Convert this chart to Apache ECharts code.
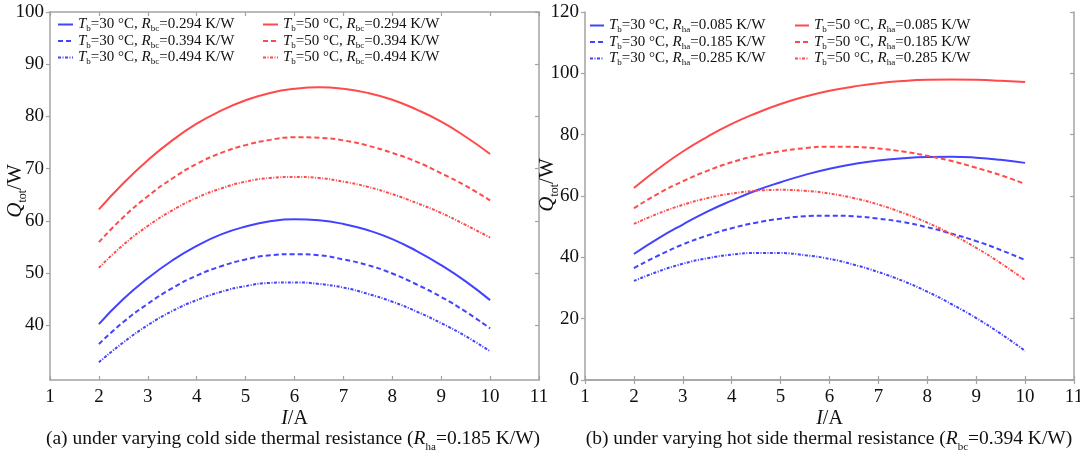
<!DOCTYPE html>
<html><head><meta charset="utf-8">
<script src="https://cdn.jsdelivr.net/npm/echarts@6/dist/echarts.min.js"></script>
<style>html,body{margin:0;padding:0;background:#fff}#c{width:1080px;height:458px}</style>
</head><body><div id="c"></div>
<script>
// ---------- data ----------
const currentI = [2, 2.5, 3, 3.5, 4, 4.5, 5, 5.5, 6, 6.5, 7, 7.5, 8, 8.5, 9, 9.5, 10];
const xTickValues = [1, 2, 3, 4, 5, 6, 7, 8, 9, 10, 11];
const yTicksA = [40, 50, 60, 70, 80, 90, 100];
const yTicksB = [0, 20, 40, 60, 80, 100, 120];

// (a) varying cold side resistance R_bc, R_ha = 0.185 K/W
const a_T30_Rbc0294 = [40.2, 45.0, 49.0, 52.4, 55.2, 57.4, 58.9, 59.9, 60.3, 60.1, 59.4, 58.2, 56.5, 54.2, 51.5, 48.4, 44.8];
const a_T30_Rbc0394 = [36.4, 40.6, 44.1, 47.1, 49.5, 51.3, 52.6, 53.4, 53.6, 53.4, 52.6, 51.5, 49.9, 47.8, 45.4, 42.6, 39.4];
const a_T30_Rbc0494 = [32.9, 36.7, 40.0, 42.7, 44.8, 46.4, 47.5, 48.1, 48.2, 47.9, 47.2, 46.0, 44.5, 42.6, 40.4, 37.9, 35.0];
const a_T50_Rbc0294 = [62.2, 67.2, 71.6, 75.4, 78.6, 81.1, 83.1, 84.5, 85.3, 85.6, 85.3, 84.5, 83.2, 81.3, 79.0, 76.1, 72.8];
const a_T50_Rbc0394 = [55.9, 60.7, 64.7, 68.1, 70.9, 73.0, 74.5, 75.5, 76.0, 75.9, 75.4, 74.4, 73.0, 71.3, 69.1, 66.7, 63.9];
const a_T50_Rbc0494 = [51.0, 55.4, 59.0, 62.0, 64.4, 66.2, 67.5, 68.2, 68.4, 68.2, 67.5, 66.5, 65.1, 63.4, 61.5, 59.2, 56.8];

// (b) varying hot side resistance R_ha, R_bc = 0.394 K/W
const b_T30_Rha0085 = [41.1, 46.2, 50.7, 54.9, 58.5, 61.8, 64.5, 66.9, 68.9, 70.4, 71.6, 72.3, 72.7, 72.8, 72.5, 71.8, 70.8];
const b_T30_Rha0185 = [36.5, 40.6, 44.2, 47.1, 49.5, 51.3, 52.6, 53.4, 53.6, 53.4, 52.6, 51.5, 49.8, 47.7, 45.3, 42.4, 39.1];
const b_T30_Rha0285 = [32.3, 35.4, 37.9, 39.7, 40.9, 41.4, 41.4, 40.7, 39.5, 37.6, 35.2, 32.3, 28.8, 24.7, 20.2, 15.1, 9.5];
const b_T50_Rha0085 = [62.6, 68.9, 74.5, 79.3, 83.5, 87.0, 90.0, 92.4, 94.3, 95.7, 96.8, 97.5, 97.9, 98.0, 97.9, 97.6, 97.2];
const b_T50_Rha0185 = [56.0, 60.8, 64.8, 68.2, 71.0, 73.1, 74.6, 75.6, 76.1, 76.0, 75.5, 74.5, 73.1, 71.4, 69.2, 66.8, 63.9];
const b_T50_Rha0285 = [50.9, 54.3, 57.1, 59.3, 60.8, 61.7, 62.0, 61.7, 60.8, 59.3, 57.2, 54.5, 51.3, 47.5, 43.1, 38.1, 32.6];

const labelsA = ['0.294', '0.394', '0.494'];
const labelsB = ['0.085', '0.185', '0.285'];

// ---------- style ----------
const BLUE = '#4242ff', RED = '#ff4a4a', GRAY = '#a3a3a3', TXT = '#111';
const FONT = '"Liberation Serif", "Times New Roman", serif';
const dashTypes = ['solid', [5, 3], [3, 1.5, 1, 1.5]];
const rich = {
  i: { fontStyle: 'italic', fontFamily: FONT, fontSize: 15, color: TXT, lineHeight: 12 },
  n: { fontFamily: FONT, fontSize: 15, color: TXT, lineHeight: 12 },
  s: { fontFamily: FONT, fontSize: 9, color: TXT, lineHeight: 8, verticalAlign: 'top', padding: [6, 0, 0, 0] }
};

const seriesDefs = [
  ['a1', a_T30_Rbc0294, BLUE, 0, 0], ['a2', a_T30_Rbc0394, BLUE, 1, 0], ['a3', a_T30_Rbc0494, BLUE, 2, 0],
  ['a4', a_T50_Rbc0294, RED, 0, 0], ['a5', a_T50_Rbc0394, RED, 1, 0], ['a6', a_T50_Rbc0494, RED, 2, 0],
  ['b1', b_T30_Rha0085, BLUE, 0, 1], ['b2', b_T30_Rha0185, BLUE, 1, 1], ['b3', b_T30_Rha0285, BLUE, 2, 1],
  ['b4', b_T50_Rha0085, RED, 0, 1], ['b5', b_T50_Rha0185, RED, 1, 1], ['b6', b_T50_Rha0285, RED, 2, 1]
];

function legendText(name) {
  const panel = name[0];
  const k = +name[1] - 1;
  const temp = k < 3 ? 30 : 50;
  const r = panel === 'a' ? labelsA[k % 3] : labelsB[k % 3];
  const sub = panel === 'a' ? 'bc' : 'ha';
  return '{i|T}{s|b}{n|=' + temp + ' °C, }{i|R}{s|' + sub + '}{n|=' + r + ' K/W}';
}

const series = seriesDefs.map(([name, vals, color, d, g]) => ({
  name, type: 'line', xAxisIndex: g * 2, yAxisIndex: g * 2,
  data: currentI.map((x, i) => [x, vals[i]]),
  smooth: 0.5, symbol: 'none', showSymbol: false, color,
  lineStyle: { color, width: 2, type: dashTypes[d] }, z: 3
}));

function mkLegend(names, left, top, w) {
  return {
    data: names, left, top, orient: 'vertical', itemWidth: w, itemHeight: 8, itemGap: 0,
    padding: 0, formatter: legendText, itemStyle: { opacity: 0 },
    textStyle: { fontFamily: FONT, fontSize: 15, color: TXT, rich }
  };
}

const axisLine = { show: true, lineStyle: { color: GRAY, width: 1.5 } };
const tickLine = { color: GRAY, width: 1.2 };
const labelStyle = { fontFamily: FONT, fontSize: 19, color: TXT };

function xAxes(g) {
  return [{
    gridIndex: g, type: 'value', min: 1, max: 11, interval: 1, position: 'bottom',
    axisLine, axisTick: { inside: true, length: 4, lineStyle: tickLine },
    axisLabel: Object.assign({ margin: 8 }, labelStyle), splitLine: { show: false },
    name: '{i|I}{m|/A}', nameLocation: 'middle', nameGap: 29, nameMoveOverlap: false,
    nameTextStyle: { rich: { i: { fontStyle: 'italic', fontFamily: FONT, fontSize: 20, color: TXT }, m: { fontFamily: FONT, fontSize: 20, color: TXT } } }
  }, {
    gridIndex: g, type: 'value', min: 1, max: 11, interval: 1, position: 'top',
    axisLine, axisTick: { inside: true, length: 4, lineStyle: tickLine },
    axisLabel: { show: false }, splitLine: { show: false }
  }];
}
function yAxes(g, min, max, ticks, gap, shift) {
  return [{
    gridIndex: g, type: 'value', min, max, position: 'left',
    axisLine, axisTick: { inside: false, length: 4, lineStyle: tickLine, customValues: ticks },
    axisLabel: Object.assign({ margin: 6, customValues: ticks }, labelStyle), splitLine: { show: false },
    name: '{i|Q}{s|tot}{m|/W}', nameLocation: 'middle', nameGap: gap, nameRotate: 90, nameMoveOverlap: false,
    nameTextStyle: { padding: [0, 0, 0, shift], rich: {
      i: { fontStyle: 'italic', fontFamily: FONT, fontSize: 21, color: TXT },
      m: { fontFamily: FONT, fontSize: 21, color: TXT },
      s: { fontFamily: FONT, fontSize: 12, color: TXT, lineHeight: 10, verticalAlign: 'top', padding: [12, 0, 0, 0] } } }
  }, {
    gridIndex: g, type: 'value', min, max, position: 'right',
    axisLine, axisTick: { inside: true, length: 4, lineStyle: tickLine, customValues: ticks },
    axisLabel: { show: false }, splitLine: { show: false }
  }];
}

const capRich = {
  n: { fontFamily: FONT, fontSize: 19.5, fontWeight: 'normal', color: TXT },
  i: { fontFamily: FONT, fontSize: 19.5, fontWeight: 'normal', fontStyle: 'italic', color: TXT },
  s: { fontFamily: FONT, fontSize: 11, fontWeight: 'normal', color: TXT, lineHeight: 10, verticalAlign: 'top', padding: [13, 0, 0, 0] }
};

const option = {
  animation: false,
  backgroundColor: '#fff',
  grid: [
    { left: 50, top: 12, width: 489, height: 368, outerBoundsMode: 'none', containLabel: false },
    { left: 585, top: 12, width: 489, height: 368, outerBoundsMode: 'none', containLabel: false }
  ],
  title: [
    { text: '{n|(a) under varying cold side thermal resistance (}{i|R}{s|ha}{n|=0.185 K/W)}', left: 293, top: 429, textAlign: 'center', textStyle: { fontWeight: 'normal', rich: capRich }, padding: 0 },
    { text: '{n|(b) under varying hot side thermal resistance (}{i|R}{s|bc}{n|=0.394 K/W)}', left: 829, top: 429, textAlign: 'center', textStyle: { fontWeight: 'normal', rich: capRich }, padding: 0 }
  ],
  legend: [
    mkLegend(['a1', 'a2', 'a3'], 57, 17, 15),
    mkLegend(['a4', 'a5', 'a6'], 262, 17, 15),
    mkLegend(['b1', 'b2', 'b3'], 589, 18, 14),
    mkLegend(['b4', 'b5', 'b6'], 794, 18, 14)
  ],
  xAxis: [...xAxes(0), ...xAxes(1)],
  yAxis: [...yAxes(0, 29.5, 100, yTicksA, 24, 10), ...yAxes(1, 0, 120, yTicksB, 27, 22)],
  series
};

const chart = echarts.init(document.getElementById('c'), null, { renderer: 'canvas' });
chart.setOption(option);
</script></body></html>
